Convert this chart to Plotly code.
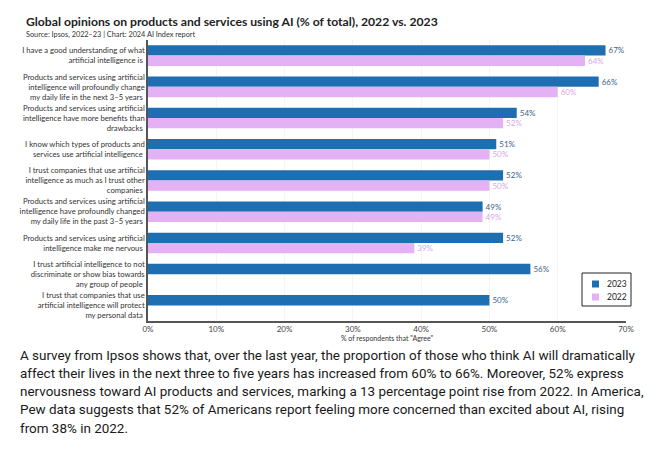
import plotly.graph_objects as go

categories = [
    "I have a good understanding of what<br>artificial intelligence is",
    "Products and services using artificial<br>intelligence will profoundly change<br>my daily life in the next 3–5 years",
    "Products and services using artificial<br>intelligence have more benefits than<br>drawbacks",
    "I know which types of products and<br>services use artificial intelligence",
    "I trust companies that use artificial<br>intelligence as much as I trust other<br>companies",
    "Products and services using artificial<br>intelligence have profoundly changed<br>my daily life in the past 3–5 years",
    "Products and services using artificial<br>intelligence make me nervous",
    "I trust artificial intelligence to not<br>discriminate or show bias towards<br>any group of people",
    "I trust that companies that use<br>artificial intelligence will protect<br>my personal data",
]
values_2023 = [67, 66, 54, 51, 52, 49, 52, 56, 50]
values_2022 = [64, 60, 52, 50, 50, 49, 39, None, None]
series_names = ["2023", "2022"]
x_ticks = [0, 10, 20, 30, 40, 50, 60, 70]
x_tick_labels = ["0%", "10%", "20%", "30%", "40%", "50%", "60%", "70%"]

paragraph_lines = [
    "A survey from Ipsos shows that, over the last year, the proportion of those who think AI will dramatically",
    "affect their lives in the next three to five years has increased from 60% to 66%. Moreover, 52% express",
    "nervousness toward AI products and services, marking a 13 percentage point rise from 2022. In America,",
    "Pew data suggests that 52% of Americans report feeling more concerned than excited about AI, rising",
    "from 38% in 2022.",
]

BLUE = "#1d6fb1"
PINK = "#e4b1f5"
FONT = "Lato"
OFF = 8  # page body margin

def labels(vals):
    return ["" if v is None else f"{v}%" for v in vals]

fig = go.Figure()
fig.add_trace(go.Bar(
    y=categories, x=values_2023, name=series_names[0], orientation="h",
    marker=dict(color=BLUE, line=dict(width=0)),
    text=labels(values_2023), textposition="outside",
    textfont=dict(family=FONT, size=8, color="#3a6489"), cliponaxis=False,
))
fig.add_trace(go.Bar(
    y=categories, x=values_2022, name=series_names[1], orientation="h",
    marker=dict(color=PINK, line=dict(width=0)),
    text=labels(values_2022), textposition="outside",
    textfont=dict(family=FONT, size=8, color="#d9a6ea"), cliponaxis=False,
))

W, H = 660, 455
T, B = 40, 321
L, R = 148, 626
def py(y):
    return (B - y) / (B - T)
def px(x):
    return (x - L) / (R - L)

fig.update_layout(
    width=W - OFF, height=H - OFF,
    margin=dict(l=L - OFF, r=W - R, t=T - OFF, b=H - B, autoexpand=False),
    paper_bgcolor="white", plot_bgcolor="white",
    barmode="group", bargap=0.34, bargroupgap=0.0,
    font=dict(family=FONT, color="#333333"),
    showlegend=False,
    xaxis=dict(range=[0, 70], tickvals=x_ticks, ticktext=x_tick_labels,
               showgrid=True, gridcolor="#f5f5f5", gridwidth=1,
               showline=True, linecolor="#555555", linewidth=1.5,
               zeroline=False, ticks="", tickfont=dict(family=FONT, size=8, color="#444444"),
               title=dict(text='% of respondents that "Agree"', font=dict(family=FONT, size=7, color="#333333"),
                          standoff=2),
               automargin=False, fixedrange=True),
    yaxis=dict(autorange="reversed", showline=True, linecolor="#555555", linewidth=1.5,
               ticks="", showgrid=False, tickfont=dict(family=FONT, size=7.7, color="#333333"),
               ticksuffix=" ", automargin=False, fixedrange=True),
)

# title and subtitle
fig.add_annotation(text="<b>Global opinions on products and services using AI (% of total), 2022 vs. 2023</b>",
                   xref="paper", yref="paper", x=px(24), y=py(21),
                   xanchor="left", yanchor="middle", showarrow=False,
                   font=dict(family=FONT, size=12.2, color="#222222"))
fig.add_annotation(text="Source: Ipsos, 2022–23 | Chart: 2024 AI Index report",
                   xref="paper", yref="paper", x=px(24), y=py(34),
                   xanchor="left", yanchor="middle", showarrow=False,
                   font=dict(family=FONT, size=7.3, color="#333333"))

# legend box
fig.add_shape(type="rect", xref="paper", yref="paper", x0=px(582), x1=px(631), y0=py(273), y1=py(306),
              line=dict(color="#222222", width=1), fillcolor="white", layer="above")
for i, (name, col) in enumerate(zip(series_names, [BLUE, PINK])):
    yc = 284 + 13 * i
    fig.add_shape(type="rect", xref="paper", yref="paper", x0=px(592), x1=px(599), y0=py(yc - 3.5), y1=py(yc + 3.5),
                  line=dict(width=0), fillcolor=col, layer="above")
    fig.add_annotation(text=name, xref="paper", yref="paper", x=px(605), y=py(yc),
                       xanchor="left", yanchor="middle", showarrow=False,
                       font=dict(family=FONT, size=8.5, color="#222222"))

for i, line in enumerate(paragraph_lines):
    fig.add_annotation(text=line, xref="paper", yref="paper", x=px(18), y=py(355 + 18.3 * i),
                       xanchor="left", yanchor="middle", align="left", showarrow=False,
                       font=dict(family="Roboto", size=13.45, color="#1a1a1a"))

fig.write_html("out.html")
